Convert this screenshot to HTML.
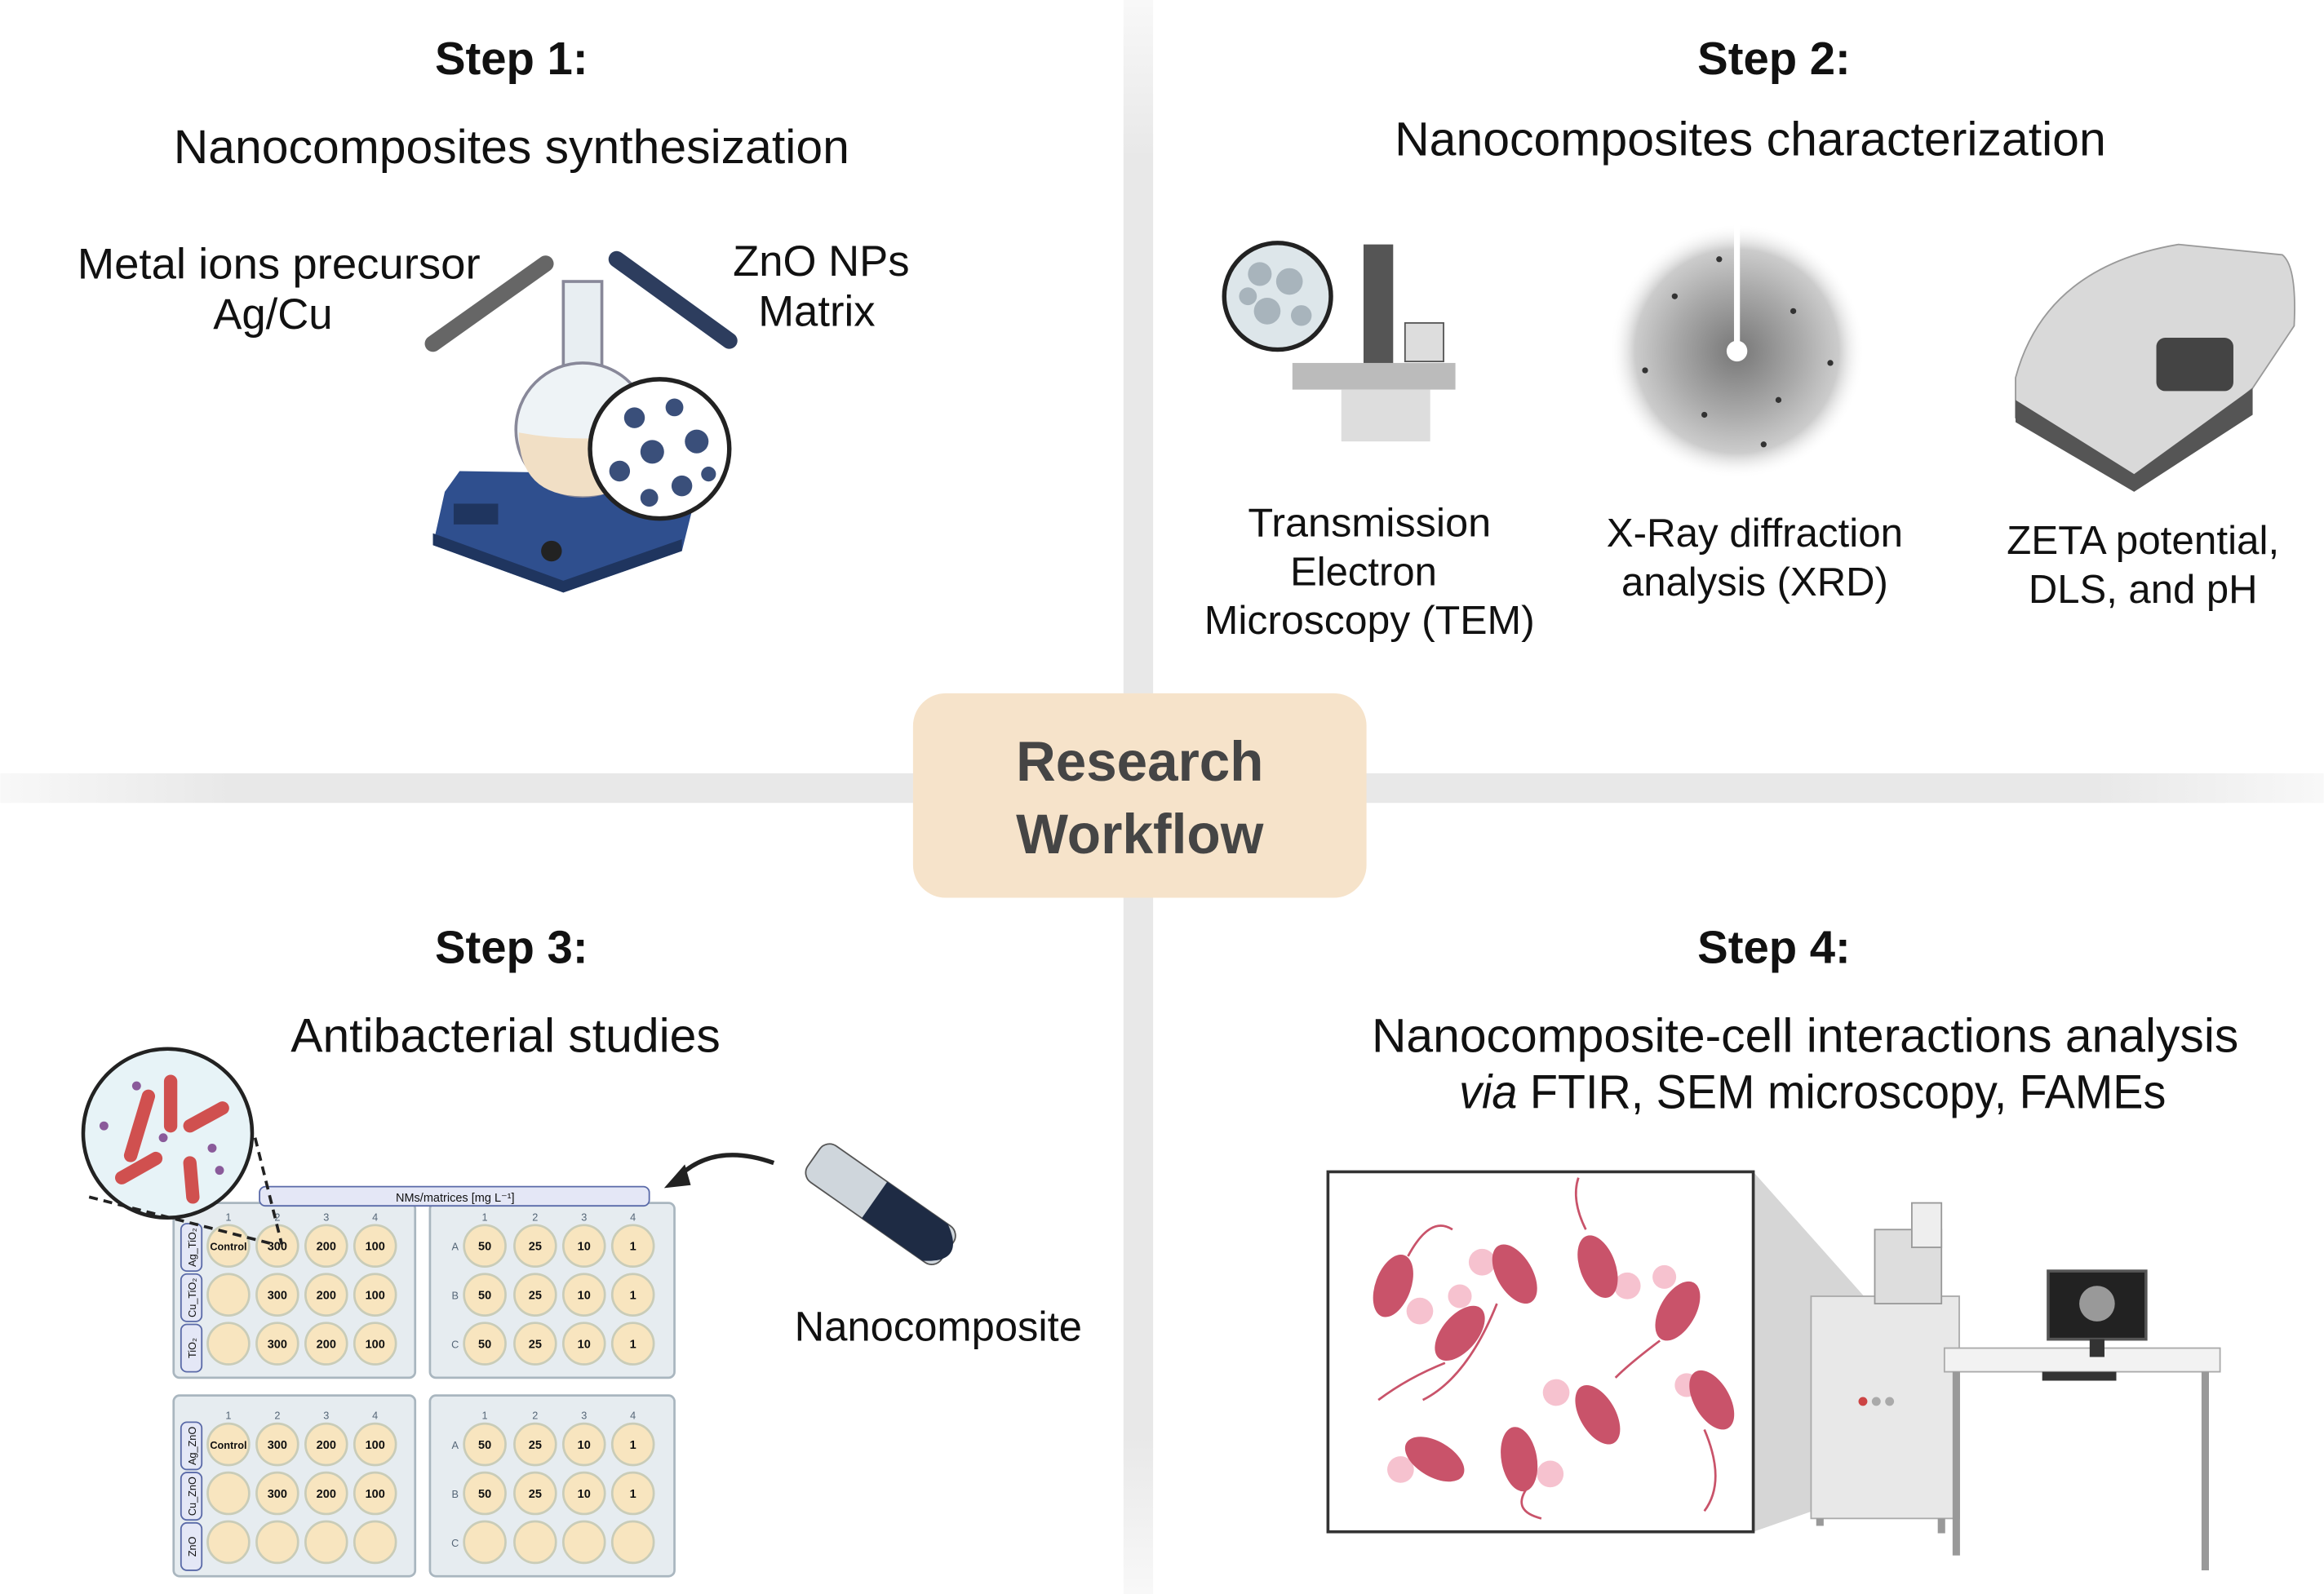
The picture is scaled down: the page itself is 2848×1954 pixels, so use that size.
<!DOCTYPE html>
<html><head><meta charset="utf-8"><style>
html,body{margin:0;padding:0;background:#fff;}
svg{display:block;}
text{font-family:"Liberation Sans",sans-serif;fill:#111;}
</style></head><body>
<svg width="2848" height="1954" viewBox="0 0 1568 1076" xmlns="http://www.w3.org/2000/svg">
<defs>
<linearGradient id="vg" x1="0" y1="0" x2="0" y2="1"><stop offset="0" stop-color="#e8e8e8" stop-opacity="0.3"/><stop offset="0.1" stop-color="#e8e8e8"/><stop offset="0.9" stop-color="#e8e8e8"/><stop offset="1" stop-color="#e8e8e8" stop-opacity="0.3"/></linearGradient>
<linearGradient id="hg" x1="0" y1="0" x2="1" y2="0"><stop offset="0" stop-color="#e8e8e8" stop-opacity="0.3"/><stop offset="0.1" stop-color="#e8e8e8"/><stop offset="0.9" stop-color="#e8e8e8"/><stop offset="1" stop-color="#e8e8e8" stop-opacity="0.3"/></linearGradient>
<radialGradient id="xrd"><stop offset="0" stop-color="#777"/><stop offset="0.5" stop-color="#aaa"/><stop offset="0.8" stop-color="#ccc"/><stop offset="1" stop-color="#fff" stop-opacity="0"/></radialGradient>
</defs>
<rect width="1568" height="1076" fill="#fff"/>
<rect x="758" y="0" width="20" height="1076" fill="url(#vg)"/>
<rect x="0" y="522" width="1568" height="20" fill="url(#hg)"/>
<rect x="616" y="468" width="306" height="138" rx="22" fill="#f6e3ca"/>
<text x="769" y="527" text-anchor="middle" font-size="38" font-weight="bold" textLength="167" lengthAdjust="spacingAndGlyphs" style="fill:#454545">Research</text>
<text x="769" y="576" text-anchor="middle" font-size="38" font-weight="bold" textLength="167" lengthAdjust="spacingAndGlyphs" style="fill:#454545">Workflow</text>

<!-- Step 1 -->
<text x="345" y="50" text-anchor="middle" font-size="31" font-weight="bold">Step 1:</text>
<text x="345" y="110" text-anchor="middle" font-size="32" textLength="456" lengthAdjust="spacingAndGlyphs">Nanocomposites synthesization</text>
<text x="188" y="188" text-anchor="middle" font-size="29" textLength="272" lengthAdjust="spacingAndGlyphs">Metal ions precursor</text>
<text x="184" y="222" text-anchor="middle" font-size="29">Ag/Cu</text>
<text x="554" y="186" text-anchor="middle" font-size="29">ZnO NPs</text>
<text x="551" y="220" text-anchor="middle" font-size="29">Matrix</text>
<line x1="292" y1="232" x2="368" y2="178" stroke="#666" stroke-width="11" stroke-linecap="round"/>
<line x1="416" y1="175" x2="492" y2="230" stroke="#2d3d5e" stroke-width="11" stroke-linecap="round"/>
<polygon points="300,332 310,318 440,320 468,340 460,372 380,400 292,368" fill="#2f4f8e"/>
<polygon points="292,360 380,392 460,364 460,372 380,400 292,368" fill="#1f355f"/>
<rect x="306" y="340" width="30" height="14" fill="#1f355f"/>
<rect x="380" y="190" width="26" height="70" fill="#e8eef2" stroke="#889" stroke-width="2"/>
<circle cx="393" cy="290" r="45" fill="#eef3f6" stroke="#889" stroke-width="2"/>
<path d="M350,292 Q393,300 436,292 Q436,335 393,335 Q350,335 350,292Z" fill="#f1dfc5"/>
<circle cx="445" cy="303" r="47" fill="#fff" stroke="#222" stroke-width="3"/>
<g fill="#3a4f7a"><circle cx="428" cy="282" r="7"/><circle cx="455" cy="275" r="6"/><circle cx="470" cy="298" r="8"/><circle cx="440" cy="305" r="8"/><circle cx="418" cy="318" r="7"/><circle cx="460" cy="328" r="7"/><circle cx="438" cy="336" r="6"/><circle cx="478" cy="320" r="5"/></g>
<circle cx="372" cy="372" r="7" fill="#222"/>

<!-- Step 2 -->
<text x="1197" y="50" text-anchor="middle" font-size="31" font-weight="bold">Step 2:</text>
<text x="1181" y="105" text-anchor="middle" font-size="32" textLength="480" lengthAdjust="spacingAndGlyphs">Nanocomposites characterization</text>
<circle cx="862" cy="200" r="36" fill="#dde6ea" stroke="#222" stroke-width="3"/>
<g fill="#a8b4bc"><circle cx="850" cy="185" r="8"/><circle cx="870" cy="190" r="9"/><circle cx="855" cy="210" r="9"/><circle cx="878" cy="213" r="7"/><circle cx="842" cy="200" r="6"/></g>
<rect x="920" y="165" width="20" height="90" fill="#555"/>
<rect x="948" y="218" width="26" height="26" fill="#ddd" stroke="#555"/>
<rect x="872" y="245" width="110" height="18" fill="#bbb"/>
<rect x="905" y="263" width="60" height="35" fill="#ddd"/>
<circle cx="1172" cy="237" r="86" fill="url(#xrd)"/>
<g fill="#333"><circle cx="1130" cy="200" r="2"/><circle cx="1210" cy="210" r="2"/><circle cx="1150" cy="280" r="2"/><circle cx="1200" cy="270" r="2"/><circle cx="1110" cy="250" r="2"/><circle cx="1235" cy="245" r="2"/><circle cx="1160" cy="175" r="2"/><circle cx="1190" cy="300" r="2"/></g>
<line x1="1172" y1="150" x2="1172" y2="237" stroke="#fff" stroke-width="4"/>
<circle cx="1172" cy="237" r="7" fill="#fff"/>
<path d="M1360,255 Q1380,180 1470,165 L1540,172 Q1550,180 1548,220 L1520,262 L1440,330 L1360,282Z" fill="#d9d9d9" stroke="#999"/>
<path d="M1360,270 L1440,320 L1520,262 L1520,280 L1440,332 L1360,285Z" fill="#555"/>
<rect x="1455" y="228" width="52" height="36" rx="6" fill="#444"/>
<text x="924" y="362" text-anchor="middle" font-size="27" textLength="164" lengthAdjust="spacingAndGlyphs">Transmission</text>
<text x="920" y="395" text-anchor="middle" font-size="27">Electron</text>
<text x="924" y="428" text-anchor="middle" font-size="27" textLength="223" lengthAdjust="spacingAndGlyphs">Microscopy (TEM)</text>
<text x="1184" y="369" text-anchor="middle" font-size="27" textLength="200" lengthAdjust="spacingAndGlyphs">X-Ray diffraction</text>
<text x="1184" y="402" text-anchor="middle" font-size="27">analysis (XRD)</text>
<text x="1446" y="374" text-anchor="middle" font-size="27" textLength="184" lengthAdjust="spacingAndGlyphs">ZETA potential,</text>
<text x="1446" y="407" text-anchor="middle" font-size="27">DLS, and pH</text>

<!-- Step 3 -->
<text x="345" y="650" text-anchor="middle" font-size="31" font-weight="bold">Step 3:</text>
<text x="341" y="710" text-anchor="middle" font-size="32" textLength="290" lengthAdjust="spacingAndGlyphs">Antibacterial studies</text>
<text x="633" y="905" text-anchor="middle" font-size="28" textLength="194" lengthAdjust="spacingAndGlyphs">Nanocomposite</text>
<path d="M522,785 Q480,770 455,797" fill="none" stroke="#222" stroke-width="3"/>
<polygon points="448,802 462,786 466,800" fill="#222"/>
<g transform="rotate(35 590 810)"><rect x="540" y="795" width="110" height="30" rx="8" fill="#cfd6dc" stroke="#555"/><path d="M590,795 L640,795 Q665,810 640,825 L590,825Z" fill="#1e2b44"/></g>
<g fill="#e6ecf0" stroke="#a9b6bf" stroke-width="1.5">
<rect x="117" y="812" width="163" height="118" rx="4"/><rect x="290" y="812" width="165" height="118" rx="4"/>
<rect x="117" y="942" width="163" height="122" rx="4"/><rect x="290" y="942" width="165" height="122" rx="4"/>
</g>
<rect x="175" y="801" width="263" height="13" rx="4" fill="#e4e7f6" stroke="#5a6aa8"/>
<text x="307" y="811" text-anchor="middle" font-size="8">NMs/matrices [mg L⁻¹]</text>
<g fill="#f8e5bf" stroke="#c9ccb8" stroke-width="1.5">
<circle cx="154" cy="841" r="14"/><circle cx="187" cy="841" r="14"/><circle cx="220" cy="841" r="14"/><circle cx="253" cy="841" r="14"/>
<circle cx="154" cy="874" r="14"/><circle cx="187" cy="874" r="14"/><circle cx="220" cy="874" r="14"/><circle cx="253" cy="874" r="14"/>
<circle cx="154" cy="907" r="14"/><circle cx="187" cy="907" r="14"/><circle cx="220" cy="907" r="14"/><circle cx="253" cy="907" r="14"/>
<circle cx="327" cy="841" r="14"/><circle cx="361" cy="841" r="14"/><circle cx="394" cy="841" r="14"/><circle cx="427" cy="841" r="14"/>
<circle cx="327" cy="874" r="14"/><circle cx="361" cy="874" r="14"/><circle cx="394" cy="874" r="14"/><circle cx="427" cy="874" r="14"/>
<circle cx="327" cy="907" r="14"/><circle cx="361" cy="907" r="14"/><circle cx="394" cy="907" r="14"/><circle cx="427" cy="907" r="14"/>
<circle cx="154" cy="975" r="14"/><circle cx="187" cy="975" r="14"/><circle cx="220" cy="975" r="14"/><circle cx="253" cy="975" r="14"/>
<circle cx="154" cy="1008" r="14"/><circle cx="187" cy="1008" r="14"/><circle cx="220" cy="1008" r="14"/><circle cx="253" cy="1008" r="14"/>
<circle cx="154" cy="1041" r="14"/><circle cx="187" cy="1041" r="14"/><circle cx="220" cy="1041" r="14"/><circle cx="253" cy="1041" r="14"/>
<circle cx="327" cy="975" r="14"/><circle cx="361" cy="975" r="14"/><circle cx="394" cy="975" r="14"/><circle cx="427" cy="975" r="14"/>
<circle cx="327" cy="1008" r="14"/><circle cx="361" cy="1008" r="14"/><circle cx="394" cy="1008" r="14"/><circle cx="427" cy="1008" r="14"/>
<circle cx="327" cy="1041" r="14"/><circle cx="361" cy="1041" r="14"/><circle cx="394" cy="1041" r="14"/><circle cx="427" cy="1041" r="14"/>
</g>
<g font-size="8" font-weight="bold" text-anchor="middle">
<text x="154" y="844" font-size="7">Control</text><text x="187" y="844">300</text><text x="220" y="844">200</text><text x="253" y="844">100</text>
<text x="187" y="877">300</text><text x="220" y="877">200</text><text x="253" y="877">100</text>
<text x="187" y="910">300</text><text x="220" y="910">200</text><text x="253" y="910">100</text>
<text x="154" y="978" font-size="7">Control</text><text x="187" y="978">300</text><text x="220" y="978">200</text><text x="253" y="978">100</text>
<text x="187" y="1011">300</text><text x="220" y="1011">200</text><text x="253" y="1011">100</text>
<text x="327" y="844">50</text><text x="361" y="844">25</text><text x="394" y="844">10</text><text x="427" y="844">1</text>
<text x="327" y="877">50</text><text x="361" y="877">25</text><text x="394" y="877">10</text><text x="427" y="877">1</text>
<text x="327" y="910">50</text><text x="361" y="910">25</text><text x="394" y="910">10</text><text x="427" y="910">1</text>
<text x="327" y="978">50</text><text x="361" y="978">25</text><text x="394" y="978">10</text><text x="427" y="978">1</text>
<text x="327" y="1011">50</text><text x="361" y="1011">25</text><text x="394" y="1011">10</text><text x="427" y="1011">1</text>
</g>
<g font-size="7" text-anchor="middle">
<text x="154" y="824" style="fill:#567">1</text><text x="187" y="824" style="fill:#567">2</text><text x="220" y="824" style="fill:#567">3</text><text x="253" y="824" style="fill:#567">4</text>
<text x="327" y="824" style="fill:#567">1</text><text x="361" y="824" style="fill:#567">2</text><text x="394" y="824" style="fill:#567">3</text><text x="427" y="824" style="fill:#567">4</text>
<text x="154" y="958" style="fill:#567">1</text><text x="187" y="958" style="fill:#567">2</text><text x="220" y="958" style="fill:#567">3</text><text x="253" y="958" style="fill:#567">4</text>
<text x="327" y="958" style="fill:#567">1</text><text x="361" y="958" style="fill:#567">2</text><text x="394" y="958" style="fill:#567">3</text><text x="427" y="958" style="fill:#567">4</text>
<text x="307" y="844" style="fill:#567">A</text><text x="307" y="877" style="fill:#567">B</text><text x="307" y="910" style="fill:#567">C</text>
<text x="307" y="978" style="fill:#567">A</text><text x="307" y="1011" style="fill:#567">B</text><text x="307" y="1044" style="fill:#567">C</text>
</g>
<g fill="#e4e7f6" stroke="#5a6aa8" stroke-width="1"><rect x="122" y="826" width="14" height="32" rx="4"/><rect x="122" y="860" width="14" height="32" rx="4"/><rect x="122" y="894" width="14" height="32" rx="4"/>
<rect x="122" y="960" width="14" height="32" rx="4"/><rect x="122" y="994" width="14" height="32" rx="4"/><rect x="122" y="1028" width="14" height="32" rx="4"/></g>
<g font-size="7" text-anchor="middle">
<text transform="translate(132 842) rotate(-90)">Ag_TiO₂</text><text transform="translate(132 876) rotate(-90)">Cu_TiO₂</text><text transform="translate(132 910) rotate(-90)">TiO₂</text>
<text transform="translate(132 976) rotate(-90)">Ag_ZnO</text><text transform="translate(132 1010) rotate(-90)">Cu_ZnO</text><text transform="translate(132 1044) rotate(-90)">ZnO</text>
</g>
<circle cx="113" cy="765" r="57" fill="#e7f3f7" stroke="#222" stroke-width="2.5"/>
<g stroke="#d0504f" stroke-width="9" stroke-linecap="round"><line x1="100" y1="740" x2="88" y2="780"/><line x1="115" y1="730" x2="115" y2="760"/><line x1="128" y1="760" x2="150" y2="748"/><line x1="82" y1="795" x2="105" y2="782"/><line x1="128" y1="785" x2="130" y2="808"/></g>
<g fill="#8a5a9a"><circle cx="92" cy="733" r="3"/><circle cx="143" cy="775" r="3"/><circle cx="110" cy="768" r="3"/><circle cx="70" cy="760" r="3"/><circle cx="148" cy="790" r="3"/></g>
<path d="M172,768 L190,840 M60,808 L185,840" stroke="#222" stroke-width="2" stroke-dasharray="6,4" fill="none"/>

<!-- Step 4 -->
<text x="1197" y="650" text-anchor="middle" font-size="31" font-weight="bold">Step 4:</text>
<text x="1218" y="710" text-anchor="middle" font-size="32" textLength="585" lengthAdjust="spacingAndGlyphs">Nanocomposite-cell interactions analysis</text>
<text x="1223" y="748" text-anchor="middle" font-size="32" textLength="477" lengthAdjust="spacingAndGlyphs"><tspan font-style="italic">via</tspan> FTIR, SEM microscopy, FAMEs</text>
<polygon points="1183,791 1280,900 1280,1000 1183,1034" fill="#d6d6d6"/>
<rect x="896" y="791" width="287" height="243" fill="#fff" stroke="#333" stroke-width="2"/>
<g fill="#f6c2cf"><circle cx="958" cy="885" r="9"/><circle cx="1000" cy="852" r="9"/><circle cx="985" cy="875" r="8"/><circle cx="1098" cy="868" r="9"/><circle cx="1123" cy="862" r="8"/><circle cx="1050" cy="940" r="9"/><circle cx="1138" cy="935" r="8"/><circle cx="945" cy="992" r="9"/><circle cx="1046" cy="995" r="9"/></g>
<g fill="#c9536a">
<ellipse cx="940" cy="868" rx="12" ry="22" transform="rotate(20 940 868)"/><ellipse cx="1022" cy="860" rx="12" ry="22" transform="rotate(-30 1022 860)"/>
<ellipse cx="1078" cy="855" rx="12" ry="22" transform="rotate(-20 1078 855)"/><ellipse cx="1132" cy="885" rx="12" ry="22" transform="rotate(30 1132 885)"/>
<ellipse cx="985" cy="900" rx="12" ry="22" transform="rotate(40 985 900)"/><ellipse cx="1078" cy="955" rx="12" ry="22" transform="rotate(-30 1078 955)"/>
<ellipse cx="1155" cy="945" rx="12" ry="22" transform="rotate(-30 1155 945)"/><ellipse cx="968" cy="985" rx="12" ry="22" transform="rotate(-60 968 985)"/>
<ellipse cx="1025" cy="985" rx="12" ry="22" transform="rotate(-10 1025 985)"/></g>
<g stroke="#c9536a" fill="none" stroke-width="1.5"><path d="M950,848 Q965,820 980,830"/><path d="M1010,880 Q990,930 960,945"/><path d="M1070,830 Q1060,810 1065,795"/><path d="M1120,905 Q1100,920 1090,930"/><path d="M975,920 Q950,930 930,945"/><path d="M1030,1005 Q1020,1020 1040,1025"/><path d="M1150,965 Q1165,1000 1150,1020"/></g>
<rect x="1222" y="875" width="100" height="150" fill="#e8e8e8" stroke="#aaa"/>
<rect x="1265" y="830" width="45" height="50" fill="#ddd" stroke="#999"/>
<rect x="1290" y="812" width="20" height="30" fill="#eee" stroke="#999"/>
<g fill="#c44"><circle cx="1257" cy="946" r="3"/></g><circle cx="1266" cy="946" r="3" fill="#aaa"/><circle cx="1275" cy="946" r="3" fill="#aaa"/>
<rect x="1312" y="910" width="186" height="16" fill="#f2f2f2" stroke="#aaa"/>
<line x1="1320" y1="926" x2="1320" y2="1050" stroke="#999" stroke-width="5"/><line x1="1488" y1="926" x2="1488" y2="1060" stroke="#999" stroke-width="5"/>
<line x1="1228" y1="1025" x2="1228" y2="1030" stroke="#999" stroke-width="5"/><line x1="1310" y1="1025" x2="1310" y2="1035" stroke="#999" stroke-width="5"/>
<rect x="1382" y="858" width="66" height="46" fill="#222" stroke="#555" stroke-width="2"/>
<circle cx="1415" cy="880" r="12" fill="#999"/>
<rect x="1410" y="904" width="10" height="12" fill="#333"/>
<rect x="1378" y="926" width="50" height="6" fill="#333"/>
</svg>
</body></html>
